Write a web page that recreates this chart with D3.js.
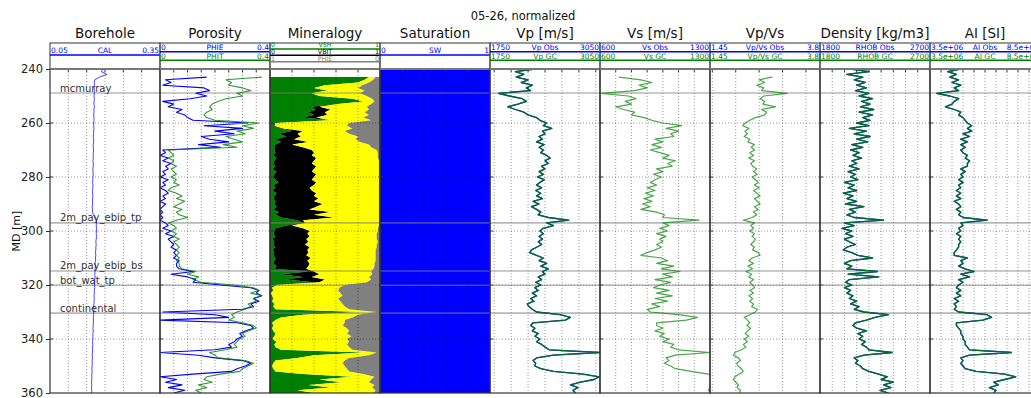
<!DOCTYPE html>
<html>
<head>
<meta charset="utf-8">
<script src="https://cdn.jsdelivr.net/npm/d3@7"></script>
<style>
  body { margin: 0; background: #fff; }
  text { font-family: "DejaVu Sans", sans-serif; }
</style>
</head>
<body>
<svg id="chart" width="1031" height="398"></svg>
<script>
// depth samples, 1 m apart
const depth = d3.range(240, 361);

const cal = [
  .195, .19, .205, .185, .172, .171, .171, .170, .171, .171,
  .170, .171, .170, .170, .171, .170, .170, .169, .170, .170,
  .169, .169, .170, .169, .169, .168, .169, .169, .168, .168,
  .169, .168, .168, .168, .167, .168, .168, .167, .167, .168,
  .167, .167, .166, .167, .167, .166, .166, .167, .166, .166,
  .166, .165, .166, .166, .168, .172, .176, .177, .176, .177,
  .177, .176, .177, .176, .175, .176, .175, .175, .174, .175,
  .174, .174, .173, .174, .173, .173, .172, .173, .172, .172,
  .171, .172, .171, .171, .170, .171, .170, .170, .169, .170,
  .169, .169, .168, .169, .168, .168, .167, .168, .167, .167,
  .167, .166, .167, .166, .166, .166, .165, .166, .165, .165,
  .165, .164, .165, .164, .164, .164, .163, .164, .163, .164,
  .163
];

const phie = [
  null, null, null, .17, .02, .04, .01, .16, .18, .13,
  .17, .11, .01, .05, .03, .08, .06, .09, .10, .12,
  .32, .16, .30, .20, .27, .15, .18, .25, .14, .22,
  .01, .02, .00, .03, .01, .04, .02, .03, .01, .02,
  .00, .03, .01, .02, .00, .02, .03, .01, .02, .00,
  .02, .01, .00, .01, .00, .01, .00, .02, .03, .01,
  .04, .02, .05, .03, .04, .05, .04, .06, .05, .06,
  .05, .07, .06, .06, .07, .12, .04, .10, .13, .12,
  .22, .33, .36, .35, .37, .34, .36, .33, .34, .30,
  .01, .20, .25, .00, .28, .33, .34, .31, .29, .30,
  .28, .27, .25, .26, .20, .00, .14, .20, .30, .33,
  .31, .28, .26, .12, .00, .06, .02, .08, .03, .09,
  .05
];

const phit = [
  null, null, null, .37, .24, .26, .25, .30, .33, .28,
  .30, .24, .21, .19, .18, .19, .17, .16, .17, .20,
  .36, .30, .34, .28, .31, .24, .27, .30, .23, .28,
  .03, .04, .05, .03, .05, .04, .06, .04, .05, .06,
  .04, .06, .05, .07, .04, .03, .06, .08, .06, .09,
  .07, .05, .08, .06, .07, .10, .06, .03, .05, .06,
  .04, .06, .05, .07, .05, .06, .07, .06, .07, .06,
  .07, .06, .07, .07, .08, .13, .10, .14, .12, .15,
  .27, .34, .36, .33, .37, .34, .35, .32, .33, .31,
  .28, .26, .27, .25, .30, .34, .35, .32, .30, .31,
  .29, .28, .27, .28, .24, .18, .20, .21, .31, .34,
  .32, .30, .29, .22, .17, .16, .19, .14, .17, .13,
  .15
];

// mineralogy volumes (stacked: VSH, VBIT, sand, PHIE from the right)
const vsh = [
  null, null, null, .90, .86, .80, .50, .40, .52, .38,
  .45, .75, .85, .60, .38, .42, .35, .40, .30, .55,
  .05, .02, .10, .20, .08, .15, .05, .10, .05, .04,
  .04, .05, .03, .06, .04, .03, .05, .02, .06, .04,
  .03, .05, .08, .03, .05, .02, .06, .04, .03, .05,
  .04, .06, .03, .08, .05, .10, .25, .30, .15, .05,
  .04, .03, .05, .02, .04, .03, .05, .02, .04, .03,
  .05, .04, .03, .06, .04, .35, .10, .30, .15, .40,
  .04, .02, .03, .01, .02, .03, .02, .04, .03, .05,
  .85, .30, .10, .05, .02, .03, .02, .03, .05, .04,
  .02, .06, .04, .05, .10, .86, .40, .25, .05, .03,
  .02, .03, .05, .30, .75, .45, .65, .35, .55, .25,
  .40
];

const vbit = [
  null, null, null, 0, 0, 0, 0, 0, 0, 0,
  0, 0, 0, .02, .07, .13, .15, .12, .12, 0,
  0, .02, .02, .10, .17, .13, .17, .25, .15, .26,
  .34, .35, .35, .36, .36, .35, .37, .38, .32, .38,
  .37, .33, .34, .37, .31, .36, .36, .36, .41, .35,
  .44, .36, .33, .47, .35, .48, .05, .02, .05, .25,
  .32, .31, .31, .31, .31, .29, .31, .32, .31, .30,
  .32, .30, .33, .29, .29, .05, .35, .08, .35, .05,
  .02, 0, 0, 0, 0, 0, 0, 0, 0, 0,
  0, 0, 0, 0, 0, 0, 0, 0, 0, 0,
  0, 0, 0, 0, 0, 0, 0, 0, 0, 0,
  0, 0, 0, 0, 0, 0, 0, 0, 0, 0,
  0
];

const phieMin = [
  null, null, null, .04, .06, .10, .16, .20, .14, .18,
  .12, .07, .05, .08, .12, .10, .14, .10, .15, .08,
  .28, .30, .25, .32, .28, .20, .22, .18, .10, .08,
  .03, .02, .02, .02, .01, .01, .01, .01, .01, .01,
  .01, .01, .01, .01, .01, .01, .01, .01, .01, .01,
  .01, .01, .01, .01, .01, .01, .01, .01, .01, .02,
  .02, .03, .03, .03, .02, .03, .03, .04, .04, .04,
  .04, .04, .05, .05, .06, .08, .07, .10, .08, .12,
  .32, .37, .38, .36, .34, .38, .36, .34, .32, .28,
  .03, .20, .25, .32, .32, .34, .30, .28, .30, .26,
  .30, .28, .30, .28, .25, .03, .10, .28, .32, .34,
  .32, .30, .28, .15, .05, .08, .10, .05, .07, .04,
  .06
];

const swDepth = [240, 360];
const sw = [1, 1];

const vpObs = [
  2280, 2050, 2150, 2060, 2200, 2120, 2250, 2180, 2230, 1850,
  1980, 2130, 2180, 2080, 1960, 2050, 2150, 2200, 2300, 2340,
  2420, 2380, 2480, 2370, 2400, 2330, 2370, 2300, 2390, 2330,
  2380, 2350, 2420, 2460, 2400, 2440, 2360, 2400, 2330, 2380,
  2310, 2390, 2340, 2300, 2360, 2290, 2350, 2300, 2370, 2260,
  2330, 2240, 2300, 2350, 2320, 2440, 2680, 2420, 2500, 2380,
  2340, 2380, 2330, 2370, 2320, 2360, 2300, 2240, 2220, 2300,
  2380, 2330, 2420, 2350, 2440, 2370, 2400, 2320, 2360, 2290,
  2350, 2280, 2320, 2250, 2300, 2230, 2270, 2190, 2210, 2250,
  2300, 2580, 2700, 2640, 2260, 2230, 2280, 2250, 2320, 2280,
  2340, 2300, 2360, 2400, 2450, 3040, 2500, 2300, 2260, 2290,
  2280, 2350, 2500, 2850, 3040, 2980, 2820, 2700, 2790, 2730,
  2760
];
const vpGc = [
  2280, 2050, 2150, 2060, 2200, 2120, 2250, 2180, 2230, 1850,
  1980, 2130, 2180, 2080, 1960, 2050, 2150, 2200, 2300, 2340,
  2420, 2380, 2480, 2370, 2400, 2330, 2370, 2300, 2390, 2330,
  2380, 2350, 2420, 2460, 2400, 2440, 2360, 2400, 2330, 2380,
  2310, 2390, 2340, 2300, 2360, 2290, 2350, 2300, 2370, 2260,
  2330, 2240, 2300, 2350, 2320, 2440, 2680, 2420, 2500, 2380,
  2340, 2380, 2330, 2370, 2320, 2360, 2300, 2240, 2220, 2300,
  2380, 2330, 2420, 2350, 2440, 2370, 2400, 2320, 2360, 2290,
  2350, 2280, 2320, 2250, 2300, 2230, 2270, 2190, 2210, 2250,
  2300, 2580, 2700, 2640, 2260, 2230, 2280, 2250, 2320, 2280,
  2340, 2300, 2360, 2400, 2450, 3040, 2500, 2300, 2260, 2290,
  2280, 2350, 2500, 2850, 3040, 2980, 2820, 2700, 2790, 2730,
  2760
];

const vsGc = [
  null, null, null, 720, 860, 930, 850, 900, 820, 610,
  780, 830, 760, 800, 700, 750, 820, 800, 880, 930,
  1000, 1120, 1020, 1100, 1050, 1070, 950, 1000, 930, 990,
  920, 980, 1040, 1000, 1080, 1030, 1060, 960, 1000, 940,
  990, 950, 920, 960, 900, 950, 890, 940, 880, 930,
  870, 920, 860, 960, 1010, 1000, 1230, 1000, 1040, 980,
  1030, 960, 1020, 980, 1000, 960, 990, 950, 900, 860,
  990, 1030, 960, 1070, 990, 1110, 1000, 1060, 950, 1050,
  980, 940, 1040, 960, 1060, 950, 1030, 930, 980, 900,
  920, 1100, 1220, 1150, 960, 960, 1000, 950, 1010, 980,
  1040, 1000, 1070, 1050, 1100, 1300, 1080, 1020, 1040, 1010,
  1050, 1080, 1180, 1290, 1320, 1330, 1310, 1320, 1300, 1290,
  1310
];

const vpvsGc = [
  null, null, null, 2.78, 2.50, 2.62, 2.45, 2.60, 2.55, 3.10,
  2.60, 2.52, 2.62, 2.58, 2.85, 2.55, 2.66, 2.62, 2.42, 2.30,
  2.20, 2.15, 2.28, 2.20, 2.25, 2.18, 2.30, 2.26, 2.40, 2.33,
  2.40, 2.30, 2.38, 2.28, 2.40, 2.32, 2.36, 2.45, 2.38, 2.46,
  2.35, 2.42, 2.48, 2.40, 2.50, 2.38, 2.45, 2.52, 2.40, 2.46,
  2.52, 2.40, 2.48, 2.38, 2.45, 2.35, 2.16, 2.40, 2.32, 2.38,
  2.30, 2.40, 2.35, 2.42, 2.38, 2.32, 2.40, 2.36, 2.48, 2.52,
  2.35, 2.28, 2.38, 2.26, 2.36, 2.22, 2.34, 2.28, 2.38, 2.30,
  2.36, 2.40, 2.30, 2.38, 2.28, 2.36, 2.30, 2.38, 2.34, 2.46,
  2.42, 2.30, 2.18, 2.25, 2.30, 2.24, 2.32, 2.26, 2.20, 2.28,
  2.18, 2.25, 2.16, 2.22, 2.12, 1.98, 1.95, 2.06, 2.10, 2.02,
  2.05, 2.12, 2.16, 2.08, 1.98, 1.95, 2.00, 2.06, 2.03, 2.10,
  2.08
];

const rhobObs = [
  2050, 2200, 2020, 2150, 2080, 2170, 2100, 2180, 2090, 2200,
  2120, 2230, 2140, 2210, 2130, 2240, 2120, 2230, 2150, 2210,
  2100, 2200, 2040, 2180, 2080, 2210, 2100, 2190, 2060, 2150,
  2050, 2120, 2070, 2140, 2060, 2100, 2040, 2120, 2030, 2090,
  2050, 2110, 2000, 2080, 2030, 2100, 1990, 2070, 2020, 2100,
  2010, 2160, 2040, 2090, 2020, 2080, 2320, 2000, 2080, 1980,
  2060, 2010, 2070, 2000, 2040, 2090, 2020, 1990, 2060, 2110,
  2230, 2050, 2000, 2060, 2020, 2270, 2030, 2280, 2040, 2010,
  2060, 2000, 2050, 2020, 2070, 2040, 2100, 2050, 2120, 2080,
  2160, 2360, 2250, 2180, 2090, 2070, 2100, 2180, 2110, 2150,
  2120, 2170, 2140, 2180, 2200, 2390, 2160, 2080, 2110, 2090,
  2130, 2150, 2200, 2280, 2350, 2300, 2400, 2320, 2380, 2290,
  2360
];
const rhobGc = [
  2050, 2200, 2020, 2150, 2080, 2170, 2100, 2180, 2090, 2200,
  2120, 2230, 2140, 2210, 2130, 2240, 2120, 2230, 2150, 2210,
  2100, 2200, 2040, 2180, 2080, 2210, 2100, 2190, 2060, 2150,
  2050, 2120, 2070, 2140, 2060, 2100, 2040, 2120, 2030, 2090,
  2050, 2110, 2000, 2080, 2030, 2100, 1990, 2070, 2020, 2100,
  2010, 2160, 2040, 2090, 2020, 2080, 2320, 2000, 2080, 1980,
  2060, 2010, 2070, 2000, 2040, 2090, 2020, 1990, 2060, 2110,
  2230, 2050, 2000, 2060, 2020, 2270, 2030, 2280, 2040, 2010,
  2060, 2000, 2050, 2020, 2070, 2040, 2100, 2050, 2120, 2080,
  2160, 2360, 2250, 2180, 2090, 2070, 2100, 2180, 2110, 2150,
  2120, 2170, 2140, 2180, 2200, 2390, 2160, 2080, 2110, 2090,
  2130, 2150, 2200, 2280, 2350, 2300, 2400, 2320, 2380, 2290,
  2360
];

// acoustic impedance in 1e6 SI units
const aiObs = [
  4.9, 4.3, 4.7, 4.4, 4.8, 4.5, 4.9, 4.6, 4.8, 3.8,
  4.4, 4.8, 4.6, 4.5, 4.2, 4.6, 4.9, 4.8, 5.0, 5.1,
  5.2, 5.4, 5.2, 5.4, 5.0, 5.3, 4.9, 5.2, 4.9, 5.1,
  4.9, 5.0, 5.2, 5.1, 5.3, 5.2, 5.2, 4.9, 5.1, 4.9,
  5.0, 4.8, 5.0, 4.8, 4.9, 4.7, 4.9, 4.7, 4.9, 4.6,
  4.8, 4.9, 4.7, 4.9, 4.8, 5.0, 6.1, 4.9, 5.0, 4.8,
  4.9, 4.7, 4.9, 4.8, 4.9, 4.8, 4.8, 4.7, 4.6, 4.6,
  5.2, 4.9, 5.0, 4.8, 5.1, 5.5, 4.9, 5.3, 4.8, 5.0,
  4.8, 4.7, 4.9, 4.7, 4.9, 4.6, 4.8, 4.6, 4.7, 4.6,
  4.8, 6.1, 6.3, 5.9, 4.7, 4.7, 4.8, 4.9, 4.9, 5.0,
  5.0, 5.1, 5.1, 5.2, 5.3, 7.2, 5.3, 4.9, 5.0, 4.9,
  5.0, 5.1, 5.6, 6.9, 7.4, 6.9, 6.4, 6.6, 6.2, 6.5,
  6.4
];
const aiGc = [
  4.9, 4.3, 4.7, 4.4, 4.8, 4.5, 4.9, 4.6, 4.8, 3.8,
  4.4, 4.8, 4.6, 4.5, 4.2, 4.6, 4.9, 4.8, 5.0, 5.1,
  5.2, 5.4, 5.2, 5.4, 5.0, 5.3, 4.9, 5.2, 4.9, 5.1,
  4.9, 5.0, 5.2, 5.1, 5.3, 5.2, 5.2, 4.9, 5.1, 4.9,
  5.0, 4.8, 5.0, 4.8, 4.9, 4.7, 4.9, 4.7, 4.9, 4.6,
  4.8, 4.9, 4.7, 4.9, 4.8, 5.0, 6.1, 4.9, 5.0, 4.8,
  4.9, 4.7, 4.9, 4.8, 4.9, 4.8, 4.8, 4.7, 4.6, 4.6,
  5.2, 4.9, 5.0, 4.8, 5.1, 5.5, 4.9, 5.3, 4.8, 5.0,
  4.8, 4.7, 4.9, 4.7, 4.9, 4.6, 4.8, 4.6, 4.7, 4.6,
  4.8, 6.1, 6.3, 5.9, 4.7, 4.7, 4.8, 4.9, 4.9, 5.0,
  5.0, 5.1, 5.1, 5.2, 5.3, 7.2, 5.3, 4.9, 5.0, 4.9,
  5.0, 5.1, 5.6, 6.9, 7.4, 6.9, 6.4, 6.6, 6.2, 6.5,
  6.4
];

const topNames = ["mcmurray", "2m_pay_ebip_tp", "2m_pay_ebip_bs", "bot_wat_tp", "continental"];
const topDepths = [248.9, 297.0, 314.8, 320.1, 330.4];

const depthTicks = [240, 260, 280, 300, 320, 340, 360];

// ---- layout ----
const W = 1031;
const headTop = 43, plotTop = 69, plotBottom = 393;
const trackW = 110, firstLeft = 50;

const tracks = [
  { title: "Borehole", domain: [0.05, 0.35], step: 0.05,
    rows: [{ name: "CAL", color: "#0000ff", lo: "0.05", hi: "0.35" }] },
  { title: "Porosity", domain: [0, 0.4], step: 0.05,
    rows: [{ name: "PHIE", color: "#0000ff", lo: "0", hi: "0.4" },
           { name: "PHIT", color: "#008000", lo: "0", hi: "0.4" }] },
  { title: "Mineralogy", domain: [0, 1], step: 0.2,
    rows: [{ name: "VSH", color: "#008000", lo: "0", hi: "1" },
           { name: "VBIT", color: "#000000", lo: "0", hi: "1" },
           { name: "PHIE", color: "#808080", lo: "1", hi: "0" }] },
  { title: "Saturation", domain: [0, 1], step: 0.2,
    rows: [{ name: "SW", color: "#0000ff", lo: "0", hi: "1" }] },
  { title: "Vp [m/s]", domain: [1750, 3050], step: 200,
    rows: [{ name: "Vp Obs", color: "#0000ff", lo: "1750", hi: "3050" },
           { name: "Vp GC", color: "#008000", lo: "1750", hi: "3050" }] },
  { title: "Vs [m/s]", domain: [600, 1300], step: 100,
    rows: [{ name: "Vs Obs", color: "#0000ff", lo: "600", hi: "1300" },
           { name: "Vs GC", color: "#008000", lo: "600", hi: "1300" }] },
  { title: "Vp/Vs", domain: [1.45, 3.8], step: 0.5,
    rows: [{ name: "Vp/Vs Obs", color: "#0000ff", lo: "1.45", hi: "3.8" },
           { name: "Vp/Vs GC", color: "#008000", lo: "1.45", hi: "3.8" }] },
  { title: "Density [kg/m3]", domain: [1800, 2700], step: 100,
    rows: [{ name: "RHOB Obs", color: "#0000ff", lo: "1800", hi: "2700" },
           { name: "RHOB GC", color: "#008000", lo: "1800", hi: "2700" }] },
  { title: "AI [SI]", domain: [3.5, 8.5], step: 0.5,
    rows: [{ name: "AI Obs", color: "#0000ff", lo: "3.5e+06", hi: "8.5e+06" },
           { name: "AI GC", color: "#008000", lo: "3.5e+06", hi: "8.5e+06" }] }
];

// header row positions: [line y, text baseline, font size]
const rowPos = {
  1: [[55, 53.3, 7.5]],
  2: [[51.7, 49.9, 7.5], [60.3, 58.5, 7.5]],
  3: [[49, 47.2, 6.3], [55.3, 54.1, 6.3], [61.7, 60.5, 6.3]]
};

const svg = d3.select("#chart");
const y = d3.scaleLinear().domain([240, 360]).range([plotTop, plotBottom]);

tracks.forEach((t, i) => {
  t.left = firstLeft + i * trackW;
  t.x = d3.scaleLinear().domain(t.domain).range([t.left, t.left + trackW]);
  const ticks = [];
  for (let k = Math.ceil(t.domain[0] / t.step - 1e-9); k * t.step < t.domain[1] - 1e-9; k++) {
    const v = k * t.step;
    if (v > t.domain[0] + 1e-9) ticks.push(v);
  }
  t.ticks = ticks;
  svg.append("clipPath").attr("id", "clip" + i)
    .append("rect").attr("x", t.left).attr("y", plotTop)
    .attr("width", trackW).attr("height", plotBottom - plotTop);
});

const fills = svg.append("g");
const grid = svg.append("g");
const tops = svg.append("g");
const curves = svg.append("g");
const frames = svg.append("g");

// ---- mineralogy fill ----
const tm = tracks[2];
const minRows = depth.map((d, i) => ({ d, sh: vsh[i], bit: vbit[i], phi: phieMin[i] }))
  .filter((r) => r.sh != null);
const mineralLayers = [
  { color: "#008000", x0: (r) => 0, x1: (r) => r.sh },
  { color: "#000000", x0: (r) => r.sh, x1: (r) => r.sh + r.bit },
  { color: "#ffff00", x0: (r) => r.sh + r.bit, x1: (r) => 1 - r.phi },
  { color: "#808080", x0: (r) => 1 - r.phi, x1: (r) => 1 }
];
mineralLayers.forEach((m) => {
  const area = d3.area()
    .y((r) => y(r.d))
    .x0((r) => tm.x(m.x0(r)))
    .x1((r) => tm.x(m.x1(r)));
  fills.append("path").attr("d", area(minRows))
    .attr("fill", m.color).attr("clip-path", "url(#clip2)");
});

// ---- saturation fill ----
const ts = tracks[3];
const swArea = d3.area()
  .y((d, i) => y(swDepth[i]))
  .x0(ts.x(0))
  .x1((d) => ts.x(d));
fills.append("path").attr("d", swArea(sw)).attr("fill", "#0000ff");

// ---- grid ----
tracks.forEach((t) => {
  t.ticks.forEach((v) => {
    grid.append("line")
      .attr("x1", t.x(v)).attr("x2", t.x(v))
      .attr("y1", plotTop).attr("y2", plotBottom)
      .attr("stroke", "#000").attr("stroke-opacity", 0.4)
      .attr("stroke-width", 1).attr("stroke-dasharray", "1,2");
    grid.append("line")
      .attr("x1", t.x(v)).attr("x2", t.x(v))
      .attr("y1", plotTop).attr("y2", plotTop + 3)
      .attr("stroke", "#333").attr("stroke-width", 1);
  });
  depthTicks.slice(1, -1).forEach((d) => {
    grid.append("line")
      .attr("x1", t.left).attr("x2", t.left + trackW)
      .attr("y1", y(d)).attr("y2", y(d))
      .attr("stroke", "#000").attr("stroke-opacity", 0.4)
      .attr("stroke-width", 1).attr("stroke-dasharray", "1,2");
    grid.append("line")
      .attr("x1", t.left).attr("x2", t.left + 3)
      .attr("y1", y(d)).attr("y2", y(d))
      .attr("stroke", "#333").attr("stroke-width", 1);
  });
});

// ---- formation tops ----
topDepths.forEach((d, i) => {
  tops.append("line")
    .attr("x1", firstLeft).attr("x2", W)
    .attr("y1", y(d)).attr("y2", y(d))
    .attr("stroke", "#808080").attr("stroke-opacity", 0.55)
    .attr("stroke-width", 1.6);
  tops.append("text")
    .attr("x", 60).attr("y", y(d) - 1.5)
    .attr("font-size", 10).attr("fill", "#333")
    .text(topNames[i]);
});

// ---- curves ----
function addCurve(ti, values, color, width, opacity) {
  const t = tracks[ti];
  const line = d3.line()
    .defined((v) => v != null)
    .x((v) => t.x(v))
    .y((v, i) => y(depth[i]));
  curves.append("path")
    .attr("d", line(values))
    .attr("fill", "none")
    .attr("stroke", color)
    .attr("stroke-width", width)
    .attr("stroke-opacity", opacity)
    .attr("stroke-linejoin", "round")
    .attr("clip-path", "url(#clip" + ti + ")");
}

addCurve(0, cal, "#0000ff", 0.9, 0.8);
addCurve(1, phie, "#0000ff", 1.1, 1);
addCurve(1, phit, "#008000", 1.1, 0.8);
addCurve(4, vpObs, "#0000ff", 1.3, 1);
addCurve(4, vpGc, "#008000", 1.3, 0.82);
addCurve(5, vsGc, "#008000", 1.2, 0.7);
addCurve(6, vpvsGc, "#008000", 1.2, 0.7);
addCurve(7, rhobObs, "#0000ff", 1.3, 1);
addCurve(7, rhobGc, "#008000", 1.3, 0.85);
addCurve(8, aiObs, "#0000ff", 1.3, 1);
addCurve(8, aiGc, "#008000", 1.3, 0.82);

// ---- frames, headers ----
tracks.forEach((t) => {
  frames.append("rect")
    .attr("x", t.left).attr("y", plotTop)
    .attr("width", trackW).attr("height", plotBottom - plotTop)
    .attr("fill", "none").attr("stroke", "#333").attr("stroke-width", 1.2);
  frames.append("rect")
    .attr("x", t.left).attr("y", headTop)
    .attr("width", trackW).attr("height", plotTop - headTop)
    .attr("fill", "none").attr("stroke", "#555").attr("stroke-width", 1.2);
  frames.append("line")
    .attr("x1", t.left).attr("x2", t.left + trackW)
    .attr("y1", plotTop).attr("y2", plotTop)
    .attr("stroke", "#777").attr("stroke-width", 2);

  frames.append("text")
    .attr("x", t.left + trackW / 2).attr("y", 37.5)
    .attr("text-anchor", "middle").attr("font-size", 13.5).attr("fill", "#111")
    .text(t.title);

  const pos = rowPos[t.rows.length];
  t.rows.forEach((r, k) => {
    const [ly, ty, fs] = pos[k];
    frames.append("line")
      .attr("x1", t.left).attr("x2", t.left + trackW)
      .attr("y1", ly).attr("y2", ly)
      .attr("stroke", r.color).attr("stroke-width", 1.5);
    const g = frames.append("g").attr("font-size", fs).attr("fill", r.color);
    g.append("text").attr("x", t.left + 1).attr("y", ty).text(r.lo);
    g.append("text").attr("x", t.left + trackW / 2).attr("y", ty)
      .attr("text-anchor", "middle").text(r.name);
    g.append("text").attr("x", t.left + trackW - 1).attr("y", ty)
      .attr("text-anchor", "end").text(r.hi);
  });
});

// ---- depth axis ----
const yAxis = svg.append("g")
  .attr("transform", `translate(${firstLeft},0)`)
  .call(d3.axisLeft(y).tickValues(depthTicks).tickSize(4).tickPadding(3));
yAxis.select(".domain").remove();
yAxis.selectAll("text").attr("font-size", 11.5).attr("fill", "#222")
  .style("font-family", '"DejaVu Sans", sans-serif');
yAxis.selectAll("line").attr("stroke", "#333");

svg.append("text")
  .attr("transform", `translate(20,${(plotTop + plotBottom) / 2}) rotate(-90)`)
  .attr("text-anchor", "middle").attr("font-size", 11).attr("fill", "#111")
  .text("MD [m]");

svg.append("text")
  .attr("x", 523).attr("y", 20)
  .attr("text-anchor", "middle").attr("font-size", 11.5).attr("fill", "#111")
  .text("05-26, normalized");
</script>
</body>
</html>
